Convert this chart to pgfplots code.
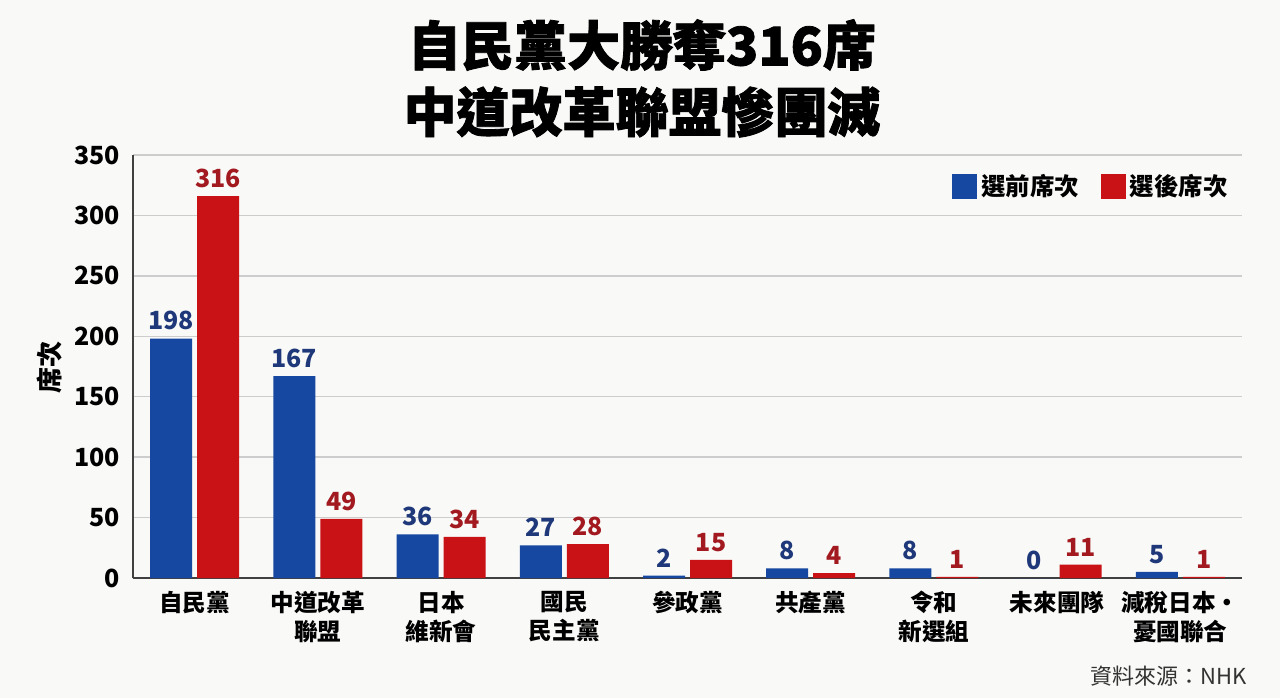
\documentclass[border=0pt]{standalone}
\usepackage{fontspec}
\setmainfont{Noto Sans CJK TC}
\usepackage{pgfplots}
\pgfplotsset{compat=1.18}
\definecolor{bgc}{RGB}{249,249,247}
\definecolor{barblue}{RGB}{22,72,162}
\definecolor{barred}{RGB}{200,18,22}
\definecolor{txtblue}{RGB}{30,56,122}
\definecolor{txtred}{RGB}{162,26,32}
\definecolor{gridc}{RGB}{205,205,205}
\begin{document}
\begin{tikzpicture}
\fill[bgc] (0,0) rectangle (640pt,349pt);
\path[use as bounding box] (0,0) rectangle (640pt,349pt);
\begin{axis}[
  at={(66.5pt,60pt)}, anchor=south west,
  scale only axis, width=554.5pt, height=211.5pt,
  xmin=-0.5, xmax=8.5, ymin=0, ymax=350,
  ybar=2.5pt, bar width=21pt,
  axis lines=left,
  axis line style={-, draw=black!75, line width=0.9pt},
  ymajorgrids, major grid style={gridc, line width=0.7pt},
  major tick length=0pt,
  xtick={0,...,8},
  xticklabels={自民黨, 中道改革\\聯盟, 日本\\維新會, 國民\\民主黨, 參政黨, 共產黨, 令和\\新選組, 未來團隊, 減稅日本・\\憂國聯合},
  xticklabel style={align=center, font=\bfseries\fontsize{11.8}{14.5}\selectfont, yshift=-3pt},
  ytick={0,50,...,350},
  /pgf/number format/assume math mode=true,
  yticklabel style={font=\bfseries\fontsize{12.5}{14}\selectfont, xshift=-3pt},
  clip=false,
  nodes near coords,
  every node near coord/.append style={font=\bfseries\fontsize{12.5}{14}\selectfont, anchor=south, inner sep=1pt, yshift=3pt},
  legend columns=2,
  legend style={at={(1,1)}, anchor=north east, xshift=-2pt, yshift=-5.5pt, draw=none, fill=none,
    font=\bfseries\fontsize{12.2}{14}\selectfont,
    /tikz/every even column/.append style={column sep=9pt}},
  legend image code/.code={\fill[#1] (0pt,-6.25pt) rectangle (12.5pt,6.25pt);},
]
\addplot[fill=barblue, draw=none, every node near coord/.append style={text=txtblue}]
  coordinates {(0,198) (1,167) (2,36) (3,27) (4,2) (5,8) (6,8) (7,0) (8,5)};
\addplot[fill=barred, draw=none, every node near coord/.append style={text=txtred}]
  coordinates {(0,316) (1,49) (2,34) (3,28) (4,15) (5,4) (6,1) (7,11) (8,1)};
\legend{選前席次, 選後席次}
\end{axis}
\node[font=\bfseries\fontsize{26.5}{30}\selectfont\addfontfeature{FakeBold=1.5}] at (321pt,326.5pt) {自民黨大勝奪316席};
\node[font=\bfseries\fontsize{26.5}{30}\selectfont\addfontfeature{FakeBold=1.5}] at (321pt,293pt) {中道改革聯盟慘團滅};
\node[font=\bfseries\fontsize{13}{15}\selectfont, rotate=90] at (25pt,165.5pt) {席次};
\node[font=\fontsize{11}{13}\selectfont, anchor=east, text=black!80] at (627pt,11pt) {資料來源：NHK};
\end{tikzpicture}
\end{document}
